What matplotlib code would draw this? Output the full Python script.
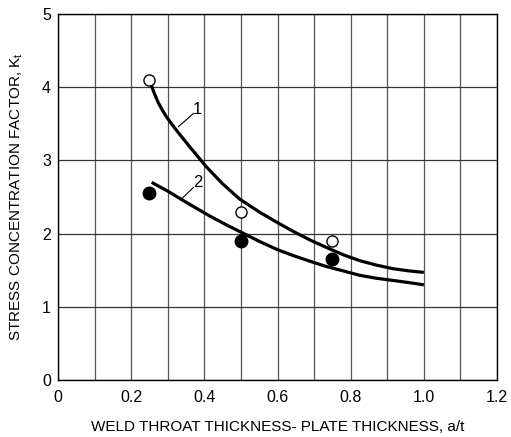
import matplotlib.pyplot as plt

plt.rcParams['font.family'] = ['Liberation Sans', 'DejaVu Sans']

# === Data
open_x = [0.25, 0.50, 0.75]
open_y = [4.10, 2.30, 1.90]
filled_x = [0.25, 0.50, 0.75]
filled_y = [2.55, 1.90, 1.65]

curve1_x = [0.252, 0.262, 0.274, 0.285, 0.297, 0.324, 0.361, 0.406, 0.45, 0.497, 0.552, 0.60, 0.643, 0.69, 0.734, 0.78, 0.825, 0.87, 0.916, 0.96, 1.0]
curve1_y = [4.07, 3.93, 3.79, 3.69, 3.59, 3.41, 3.18, 2.91, 2.68, 2.47, 2.29, 2.15, 2.03, 1.91, 1.81, 1.71, 1.63, 1.57, 1.52, 1.49, 1.47]
curve2_x = [0.256, 0.30, 0.333, 0.37, 0.415, 0.46, 0.50, 0.552, 0.60, 0.643, 0.69, 0.734, 0.78, 0.825, 0.87, 0.916, 0.96, 1.0]
curve2_y = [2.70, 2.58, 2.48, 2.37, 2.24, 2.12, 2.02, 1.89, 1.78, 1.70, 1.62, 1.55, 1.49, 1.43, 1.39, 1.36, 1.33, 1.30]

# === Plot
fig = plt.figure(figsize=(5.11, 4.37), dpi=100)
ax = fig.add_axes([58 / 511, 57 / 437, 439 / 511, 366 / 437])

ax.plot(curve1_x, curve1_y, color='black', lw=2.3, solid_capstyle='butt', zorder=3)
ax.plot(curve2_x, curve2_y, color='black', lw=2.3, solid_capstyle='butt', zorder=3)
ax.plot(open_x, open_y, 'o', ms=8, mfc='white', mec='black', mew=1.0, zorder=4)
ax.plot(filled_x, filled_y, 'o', ms=9, mfc='black', mec='black', zorder=4)

# curve labels with leader lines
ax.plot([0.329, 0.37], [3.46, 3.64], color='black', lw=0.8)
ax.text(0.368, 3.70, '1', fontsize=12, ha='left', va='center')
ax.plot([0.335, 0.37], [2.46, 2.63], color='black', lw=0.8)
ax.text(0.368, 2.70, '2', fontsize=12, ha='left', va='center')

ax.set_xlim(0, 1.2)
ax.set_ylim(0, 5)
ax.set_xticks([0, 0.2, 0.4, 0.6, 0.8, 1.0, 1.2])
ax.set_xticklabels(['0', '0.2', '0.4', '0.6', '0.8', '1.0', '1.2'])
ax.set_xticks([i / 10 for i in range(13)], minor=True)
ax.set_yticks([0, 1, 2, 3, 4, 5])
ax.grid(True, which='both', axis='x', color='#555555', lw=0.9)
ax.grid(True, which='major', axis='y', color='#333333', lw=0.9)
ax.tick_params(which='both', length=0, labelsize=11.5)
ax.tick_params(axis='x', pad=7)
ax.tick_params(axis='y', pad=5)
for s in ax.spines.values():
    s.set_linewidth(1.0)

ax.set_xlabel('WELD THROAT THICKNESS- PLATE THICKNESS, a/t', fontsize=11, labelpad=11)
ax.set_ylabel('STRESS CONCENTRATION FACTOR, K$_\\mathregular{t}$', fontsize=11, labelpad=12)

plt.savefig('out.png', dpi=100)
plt.close()
